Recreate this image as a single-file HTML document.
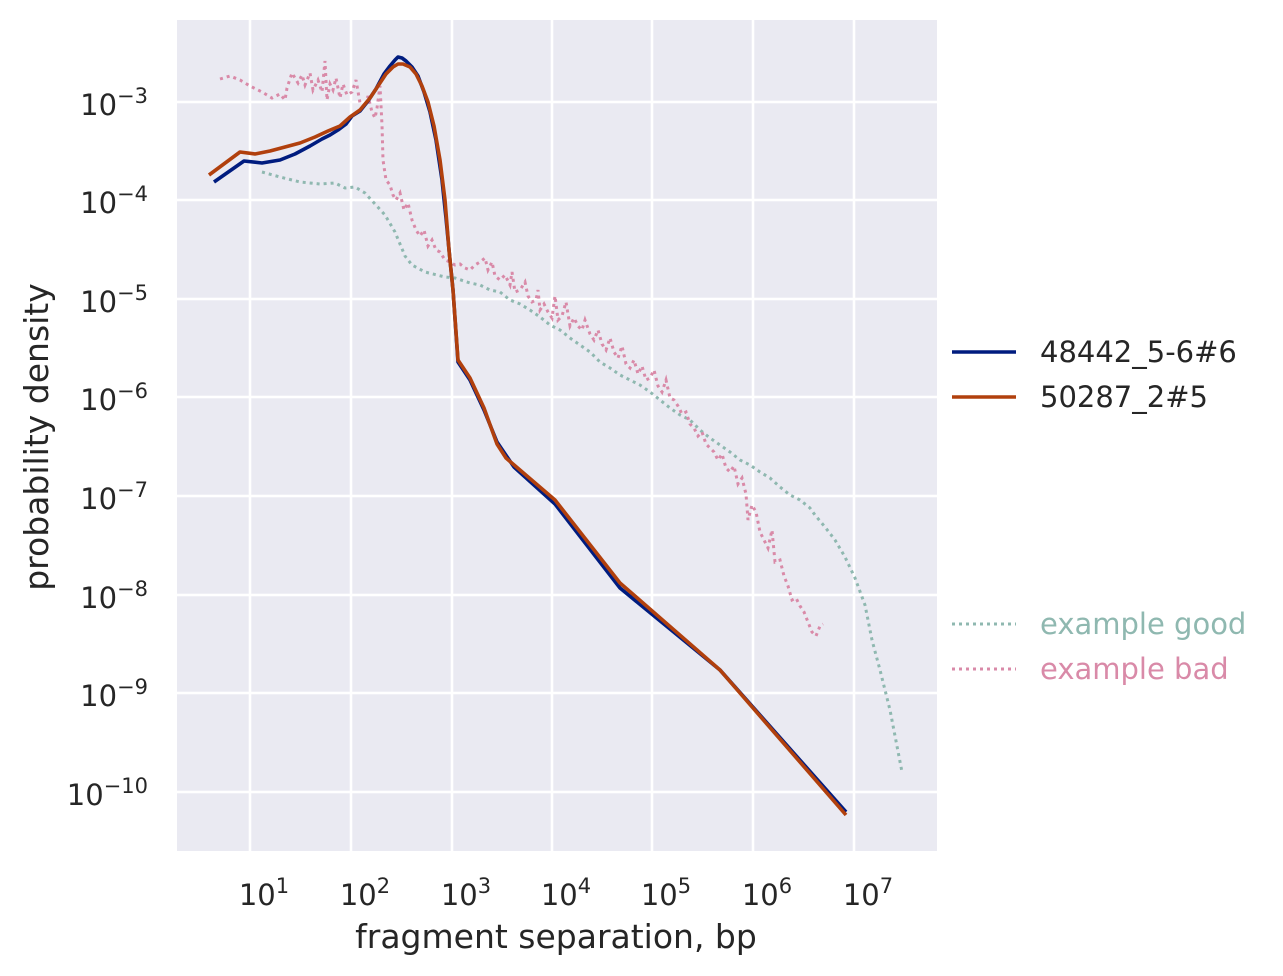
<!DOCTYPE html>
<html><head><meta charset="utf-8"><style>
html,body{margin:0;padding:0;background:#fff;}
svg{display:block;font-family:"DejaVu Sans","Liberation Sans",sans-serif;}
</style></head><body>
<svg width="1283" height="976" viewBox="0 0 1283 976" xmlns="http://www.w3.org/2000/svg">
<rect x="177" y="20" width="760" height="831" fill="#eaeaf2"/>
<g stroke="#fff" stroke-width="2.5">
<line x1="250" y1="20" x2="250" y2="851"/><line x1="351" y1="20" x2="351" y2="851"/>
<line x1="452" y1="20" x2="452" y2="851"/><line x1="552" y1="20" x2="552" y2="851"/>
<line x1="652" y1="20" x2="652" y2="851"/><line x1="753" y1="20" x2="753" y2="851"/>
<line x1="854" y1="20" x2="854" y2="851"/>
<line x1="177" y1="102" x2="937" y2="102"/><line x1="177" y1="200" x2="937" y2="200"/>
<line x1="177" y1="299" x2="937" y2="299"/><line x1="177" y1="397" x2="937" y2="397"/>
<line x1="177" y1="496" x2="937" y2="496"/><line x1="177" y1="595" x2="937" y2="595"/>
<line x1="177" y1="693" x2="937" y2="693"/><line x1="177" y1="792" x2="937" y2="792"/>
</g>
<g fill="none" stroke-width="3" stroke-dasharray="3,4" stroke-linecap="butt">
<polyline stroke="#8fb8b0" points="262,172 280,177 300,182 320,184 335,183 345,188 355,187 365,193 375,204 385,215 395,232 405,256 412,265 425,272 445,277 455,278 470,283 480,285 490,290 500,292 510,300 520,304 530,310 540,317 550,325 560,330 570,338 580,345 590,352 600,362 610,368 620,375 630,380 640,385 650,392 660,400 670,408 680,415 690,420 700,430 710,438 720,445 730,452 740,460 750,465 760,472 770,478 780,487 790,495 800,500 810,508 815,515 825,527 835,540 845,557 855,578 865,605 872,640 880,670 890,710 902,772"/>
<polyline stroke="#d98aa8" points="220,79 230,76 240,80 250,86 262,92 272,98 280,94 285,100 287,88 292,73 298,83 302,75 305,85 310,73 313,90 318,80 322,92 325,61 327,100 330,84 333,90 336,78 340,98 343,84 347,95 352,92 356,80 360,103 365,108 368,96 372,112 375,118 377,108 380,86 382,125 383,160 386,180 390,185 393,195 396,200 400,193 404,210 408,203 412,220 416,230 420,236 424,230 428,246 432,240 436,250 440,252 445,260 450,262 455,265 460,264 465,268 470,270 475,265 480,262 485,258 488,270 492,262 495,276 500,280 505,275 510,285 512,272 515,292 520,290 525,282 528,296 532,302 536,300 538,290 540,310 544,304 548,312 552,318 555,296 558,320 562,316 566,302 570,326 574,318 578,326 582,330 585,320 590,334 594,340 598,330 602,344 606,350 610,338 614,352 618,358 622,346 626,364 630,368 634,360 638,374 642,366 646,380 650,378 654,370 658,386 662,392 666,380 670,398 674,400 678,406 682,414 686,412 690,424 694,428 698,436 702,432 706,444 710,448 714,452 718,460 722,454 726,468 730,472 734,466 738,484 742,478 746,494 748,520 752,505 756,512 760,532 764,540 768,548 772,530 775,562 780,560 784,576 788,586 792,600 796,598 800,606 804,612 808,622 812,632 816,636 820,626 823,624"/>
</g>
<g fill="none" stroke-width="3.6" stroke-linejoin="round">
<polyline stroke="#001c7f" points="214,182 244,161 262,163 280,160 295,154 310,146 322,139 330,135 338,130 346,124 352,116 360,111 368,101 376,89 384,74 390,66 395,60 398,57 402,58 406,61 412,67 418,76 424,92 430,112 436,140 442,180 446,218 450,260 453,290 458,362 470,380 484,410 497,442 514,467 555,504 620,588 720,670 846,812"/>
<polyline stroke="#b1400d" points="209,175 240,152 255,154 270,151 285,147 300,143 315,137 328,131 340,126 350,117 360,110 370,98 378,86 386,74 393,67 398,64 403,64 410,67 416,74 422,86 428,102 434,126 440,160 445,200 449,250 453,290 458,360 470,378 484,408 497,444 506,458 555,500 620,583 720,670 846,815"/>
</g>
<g fill="#262626" font-size="29">
<text x="264" y="905" text-anchor="middle">10<tspan font-size="21" dy="-12">1</tspan></text>
<text x="365" y="905" text-anchor="middle">10<tspan font-size="21" dy="-12">2</tspan></text>
<text x="466" y="905" text-anchor="middle">10<tspan font-size="21" dy="-12">3</tspan></text>
<text x="566" y="905" text-anchor="middle">10<tspan font-size="21" dy="-12">4</tspan></text>
<text x="666" y="905" text-anchor="middle">10<tspan font-size="21" dy="-12">5</tspan></text>
<text x="767" y="905" text-anchor="middle">10<tspan font-size="21" dy="-12">6</tspan></text>
<text x="868" y="905" text-anchor="middle">10<tspan font-size="21" dy="-12">7</tspan></text>
<g text-anchor="end">
<text x="148" y="115">10<tspan font-size="21" dy="-12">−3</tspan></text>
<text x="148" y="213">10<tspan font-size="21" dy="-12">−4</tspan></text>
<text x="148" y="312">10<tspan font-size="21" dy="-12">−5</tspan></text>
<text x="148" y="410">10<tspan font-size="21" dy="-12">−6</tspan></text>
<text x="148" y="509">10<tspan font-size="21" dy="-12">−7</tspan></text>
<text x="148" y="608">10<tspan font-size="21" dy="-12">−8</tspan></text>
<text x="148" y="706">10<tspan font-size="21" dy="-12">−9</tspan></text>
<text x="148" y="805">10<tspan font-size="21" dy="-12">−10</tspan></text>
</g>
</g>
<text x="556" y="948" text-anchor="middle" font-size="33" fill="#262626">fragment separation, bp</text>
<text transform="translate(48,437) rotate(-90)" text-anchor="middle" font-size="33" fill="#262626">probability density</text>
<line x1="952" y1="352" x2="1016" y2="352" stroke="#001c7f" stroke-width="3.6"/>
<text x="1040" y="362" font-size="29" fill="#262626">48442_5-6#6</text>
<line x1="952" y1="397" x2="1016" y2="397" stroke="#b1400d" stroke-width="3.6"/>
<text x="1040" y="407" font-size="29" fill="#262626">50287_2#5</text>
<line x1="952" y1="624" x2="1016" y2="624" stroke="#8fb8b0" stroke-width="3" stroke-dasharray="3,4"/>
<text x="1040" y="634" font-size="29" fill="#8fb8b0">example good</text>
<line x1="952" y1="669" x2="1016" y2="669" stroke="#d98aa8" stroke-width="3" stroke-dasharray="3,4"/>
<text x="1040" y="679" font-size="29" fill="#d98aa8">example bad</text>
</svg>
</body></html>
